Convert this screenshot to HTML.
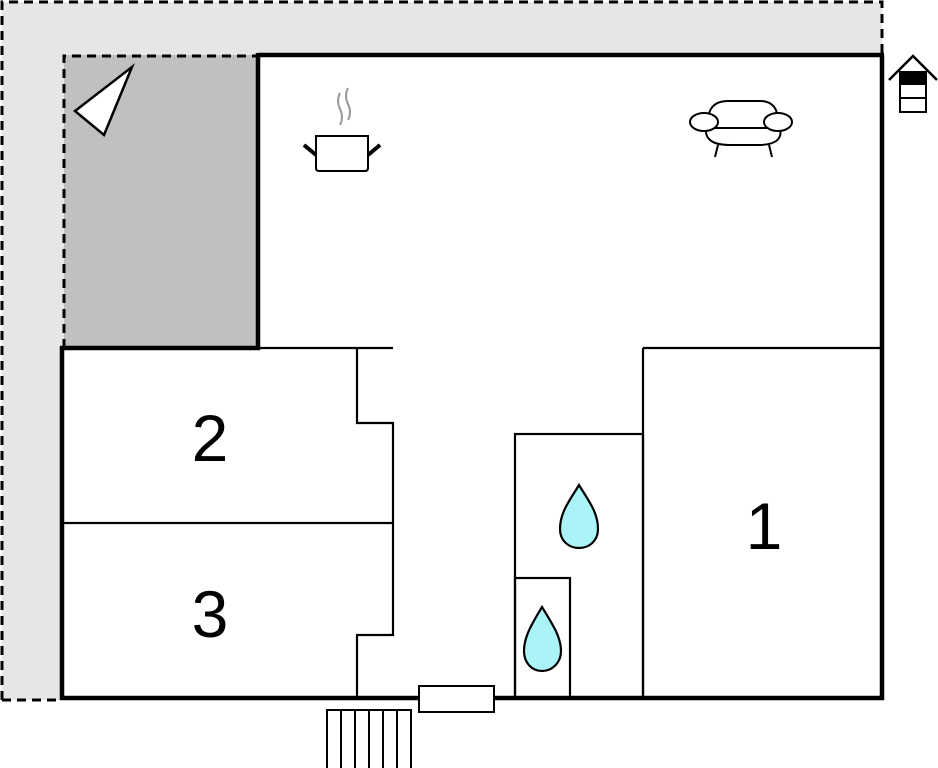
<!DOCTYPE html>
<html><head><meta charset="utf-8"><style>
html,body{margin:0;padding:0;background:#fff;}
svg{display:block;}
text{font-family:"Liberation Sans",Arial,sans-serif;}
</style></head><body>
<svg width="938" height="768" viewBox="0 0 938 768" xmlns="http://www.w3.org/2000/svg">
<!-- light gray surround -->
<rect x="2" y="2" width="880" height="698" fill="#e6e6e6"/>
<path d="M2 700 L2 2 L882 2 L882 55" fill="none" stroke="#000" stroke-width="3" stroke-dasharray="9,6"/>
<path d="M2 700 L62 700" fill="none" stroke="#000" stroke-width="3" stroke-dasharray="9,6"/>
<!-- terrace -->
<rect x="64" y="55" width="194" height="293" fill="#c0c0c0"/>
<path d="M64 348 L64 56 L258 56" fill="none" stroke="#000" stroke-width="3" stroke-dasharray="9,6"/>
<!-- building interior -->
<path d="M258 55 L882 55 L882 698 L62 698 L62 348 L258 348 Z" fill="#fff"/>
<!-- thin walls -->
<g fill="none" stroke="#000" stroke-width="2.2">
<path d="M258 348 L393 348"/>
<path d="M357 348 L357 423 L393 423 L393 635 L357 635 L357 698"/>
<path d="M62 523 L393 523"/>
<rect x="515" y="434" width="128" height="264"/>
<rect x="515" y="578" width="55" height="120"/>
<path d="M643 348 L643 698 M643 348 L882 348"/>
</g>
<!-- thick outline -->
<path d="M258 55 L884 55 M882 55 L882 700 M60 698 L884 698 M62 346 L62 700 M60 348 L260 348 M258 53 L258 350" fill="none" stroke="#000" stroke-width="4.5"/>
<!-- door -->
<rect x="419" y="686" width="75" height="26" fill="#fff" stroke="#000" stroke-width="2"/>
<!-- stairs -->
<g fill="#fff" stroke="#000" stroke-width="2">
<rect x="327" y="710" width="84" height="60"/>
<path d="M341 710 V768 M355 710 V768 M369 710 V768 M383 710 V768 M397 710 V768"/>
</g>
<!-- compass triangle -->
<path d="M132 67 L75 111 L104 135 Z" fill="#fff" stroke="#000" stroke-width="2.5" stroke-linejoin="miter"/>
<!-- pot -->
<g fill="none">
<path d="M340 93 q-4 8 0 16 q4 8 0 16" stroke="#999" stroke-width="2"/>
<path d="M348 88 q-4 8 0 16 q4 8 0 16" stroke="#999" stroke-width="2"/>
<path d="M316 136 H368 V168 q0 3 -3 3 H319 q-3 0 -3 -3 Z" fill="#fff" stroke="#000" stroke-width="2"/>
<path d="M304 145 L316 155 M380 145 L368 155" stroke="#000" stroke-width="4"/>
</g>
<!-- sofa -->
<g fill="#fff" stroke="#000" stroke-width="2">
<path d="M708 126 Q706 100 730 101 H758 Q780 100 778 126" />
<path d="M706 128 Q704 145 730 145 H758 Q784 145 780 128 Z"/>
<ellipse cx="704" cy="122" rx="14" ry="9"/>
<ellipse cx="778" cy="122" rx="14" ry="9"/>
<path d="M718 145 L715 157 M769 145 L772 157"/>
</g>
<!-- house icon -->
<g>
<path d="M889 80 L913 56 L937 80" fill="none" stroke="#000" stroke-width="2.5"/>
<rect x="900" y="72" width="26" height="40" fill="#fff" stroke="#000" stroke-width="2"/>
<rect x="900" y="72" width="26" height="13" fill="#000"/>
<path d="M900 98 H926" stroke="#000" stroke-width="2"/>
</g>
<!-- water drops -->
<path d="M579 485 C570 500 560 512 560 529 C560 541 569 548 579 548 C589 548 598 541 598 529 C598 512 588 500 579 485 Z" fill="#aaf4f8" stroke="#000" stroke-width="2.2"/>
<path d="M542 607 C533 622 524 636 524 651 C524 663 532 671 542 671 C552 671 561 663 561 651 C561 636 551 622 542 607 Z" fill="#aaf4f8" stroke="#000" stroke-width="2.2"/>
<!-- labels -->
<text x="210" y="461" font-size="66" text-anchor="middle">2</text>
<text x="210" y="637" font-size="66" text-anchor="middle">3</text>
<text x="764" y="549" font-size="66" text-anchor="middle">1</text>
</svg>
</body></html>
